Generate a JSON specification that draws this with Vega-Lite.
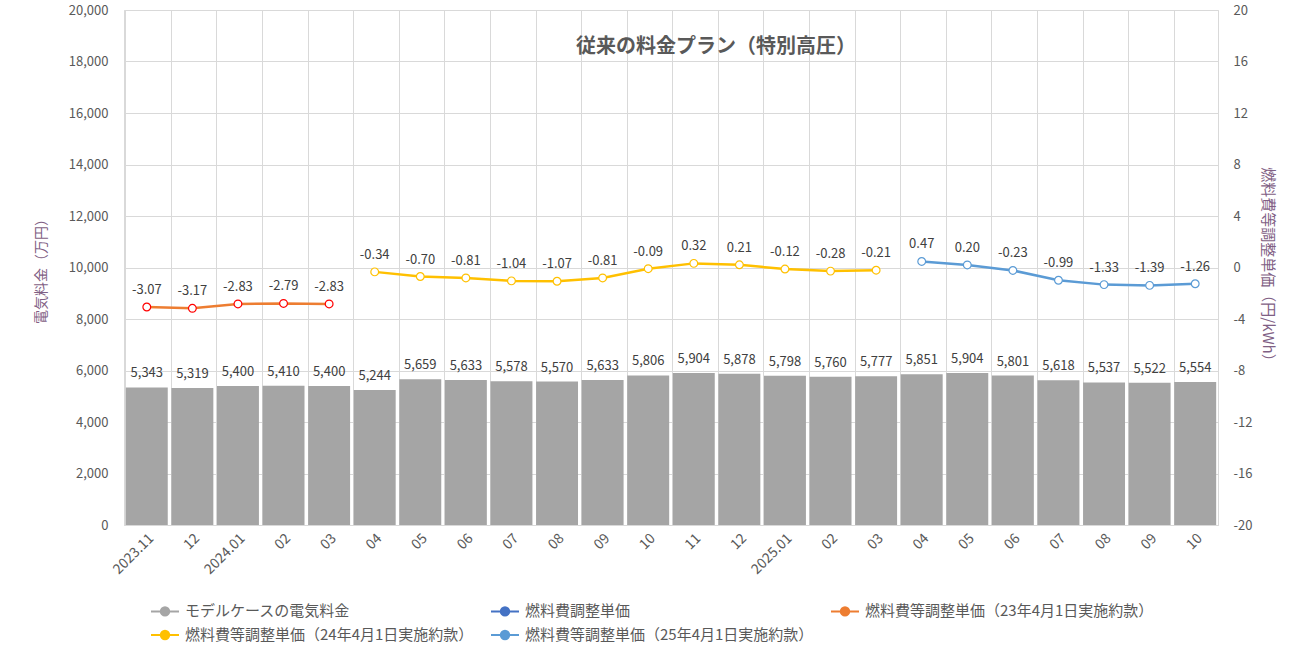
{
  "$schema": "https://vega.github.io/schema/vega-lite/v6.json",
  "width": 1094,
  "height": 515,
  "autosize": {"type": "none"},
  "padding": {"left": 124, "top": 10, "right": 87, "bottom": 136},
  "background": "white",
  "config": {
    "font": "Noto Sans CJK JP",
    "locale": {"number": {"decimal": ".", "thousands": ",", "grouping": [3], "currency": ["", ""], "minus": "-"}},
    "view": {"stroke": "#D9D9D9"},
    "axis": {"labelColor": "#595959", "labelFontSize": 13, "gridColor": "#D9D9D9", "ticks": false},
    "legend": {
      "orient": "none",
      "legendX": 26,
      "legendY": 586,
      "title": null,
      "columns": 3,
      "direction": "horizontal",
      "columnPadding": 13,
      "rowPadding": 0,
      "labelFontSize": 15,
      "labelColor": "#595959",
      "labelLimit": 400,
      "labelOffset": 5,
      "symbolSize": 784
    }
  },
  "title": {
    "text": "従来の料金プラン（特別高圧）",
    "fontSize": 20,
    "fontWeight": "bold",
    "color": "#595959",
    "anchor": "middle",
    "dx": 45,
    "dy": 57
  },
  "data": {
    "values": [
      {"m": "2023.11", "bill": 5343, "series": "燃料費等調整単価（23年4月1日実施約款）", "unit": -3.07},
      {"m": "2023.12", "bill": 5319, "series": "燃料費等調整単価（23年4月1日実施約款）", "unit": -3.17},
      {"m": "2024.01", "bill": 5400, "series": "燃料費等調整単価（23年4月1日実施約款）", "unit": -2.83},
      {"m": "2024.02", "bill": 5410, "series": "燃料費等調整単価（23年4月1日実施約款）", "unit": -2.79},
      {"m": "2024.03", "bill": 5400, "series": "燃料費等調整単価（23年4月1日実施約款）", "unit": -2.83},
      {"m": "2024.04", "bill": 5244, "series": "燃料費等調整単価（24年4月1日実施約款）", "unit": -0.34},
      {"m": "2024.05", "bill": 5659, "series": "燃料費等調整単価（24年4月1日実施約款）", "unit": -0.70},
      {"m": "2024.06", "bill": 5633, "series": "燃料費等調整単価（24年4月1日実施約款）", "unit": -0.81},
      {"m": "2024.07", "bill": 5578, "series": "燃料費等調整単価（24年4月1日実施約款）", "unit": -1.04},
      {"m": "2024.08", "bill": 5570, "series": "燃料費等調整単価（24年4月1日実施約款）", "unit": -1.07},
      {"m": "2024.09", "bill": 5633, "series": "燃料費等調整単価（24年4月1日実施約款）", "unit": -0.81},
      {"m": "2024.10", "bill": 5806, "series": "燃料費等調整単価（24年4月1日実施約款）", "unit": -0.09},
      {"m": "2024.11", "bill": 5904, "series": "燃料費等調整単価（24年4月1日実施約款）", "unit": 0.32},
      {"m": "2024.12", "bill": 5878, "series": "燃料費等調整単価（24年4月1日実施約款）", "unit": 0.21},
      {"m": "2025.01", "bill": 5798, "series": "燃料費等調整単価（24年4月1日実施約款）", "unit": -0.12},
      {"m": "2025.02", "bill": 5760, "series": "燃料費等調整単価（24年4月1日実施約款）", "unit": -0.28},
      {"m": "2025.03", "bill": 5777, "series": "燃料費等調整単価（24年4月1日実施約款）", "unit": -0.21},
      {"m": "2025.04", "bill": 5851, "series": "燃料費等調整単価（25年4月1日実施約款）", "unit": 0.47},
      {"m": "2025.05", "bill": 5904, "series": "燃料費等調整単価（25年4月1日実施約款）", "unit": 0.20},
      {"m": "2025.06", "bill": 5801, "series": "燃料費等調整単価（25年4月1日実施約款）", "unit": -0.23},
      {"m": "2025.07", "bill": 5618, "series": "燃料費等調整単価（25年4月1日実施約款）", "unit": -0.99},
      {"m": "2025.08", "bill": 5537, "series": "燃料費等調整単価（25年4月1日実施約款）", "unit": -1.33},
      {"m": "2025.09", "bill": 5522, "series": "燃料費等調整単価（25年4月1日実施約款）", "unit": -1.39},
      {"m": "2025.10", "bill": 5554, "series": "燃料費等調整単価（25年4月1日実施約款）", "unit": -1.26}
    ]
  },
  "encoding": {
    "x": {
      "field": "m",
      "type": "nominal",
      "sort": null,
      "scale": {"paddingInner": 0.08, "paddingOuter": 0.04},
      "axis": {
        "title": null,
        "labelAngle": -45,
        "labelPadding": 6,
        "labelFontSize": 14,
        "domainColor": "#D9D9D9",
        "grid": true,
        "bandPosition": 0,
        "labelExpr": "indexof(['2023.11', '2024.01', '2025.01'], datum.value) >= 0 ? datum.value : slice(datum.value, 5)"
      }
    }
  },
  "layer": [
    {
      "encoding": {
        "y": {
          "field": "bill",
          "type": "quantitative",
          "scale": {"domain": [0, 20000], "nice": false},
          "axis": {
            "title": "電気料金（万円）",
            "titleColor": "#7F6084",
            "titleFontSize": 14,
            "titleFontWeight": "normal",
            "titlePadding": 20,
            "values": [0, 2000, 4000, 6000, 8000, 10000, 12000, 14000, 16000, 18000, 20000],
            "format": ",d",
            "labelPadding": 16,
            "domain": false
          }
        }
      },
      "layer": [
        {
          "mark": {"type": "bar"},
          "encoding": {
            "color": {
              "datum": "モデルケースの電気料金",
              "type": "nominal",
              "scale": {
                "domain": ["モデルケースの電気料金", "燃料費調整単価", "燃料費等調整単価（23年4月1日実施約款）", "燃料費等調整単価（24年4月1日実施約款）", "燃料費等調整単価（25年4月1日実施約款）"],
                "range": ["#A5A5A5", "#4472C4", "#ED7D31", "#FFC000", "#5B9BD5"]
              },
              "legend": {
                "title": null,
                "encode": {
                  "symbols": {
                    "update": {
                      "shape": {"value": "M-1,0H-0.3M0.3,0H1M-0.3,0A0.3,0.3 0 1,0 0.3,0A0.3,0.3 0 1,0 -0.3,0"},
                      "fill": {"value": "white"},
                      "stroke": {"value": {"expr": "scale('color', datum.value)"}},
                      "strokeWidth": {"value": 2},
                      "size": {"value": 784},
                      "opacity": {"value": 1},
                      "fillOpacity": {"value": 1},
                      "strokeOpacity": {"value": 1}
                    }
                  }
                }
              }
            }
          }
        },
        {
          "mark": {"type": "text", "dy": -14, "fontSize": 13, "color": "#404040"},
          "encoding": {
            "text": {"field": "bill", "type": "quantitative", "format": ",d"}
          }
        }
      ]
    },
    {
      "encoding": {
        "y": {
          "field": "unit",
          "type": "quantitative",
          "scale": {"domain": [-20, 20], "nice": false},
          "axis": {
            "orient": "right",
            "title": "燃料費等調整単価（円/kWh）",
            "titleColor": "#7F6084",
            "titleFontSize": 15,
            "titleFontWeight": "normal",
            "titlePadding": 8,
            "values": [-20, -16, -12, -8, -4, 0, 4, 8, 12, 16, 20],
            "format": "d",
            "labelPadding": 15,
            "grid": false,
            "domain": false
          }
        }
      },
      "layer": [
        {
          "mark": {"type": "line", "strokeWidth": 2.5},
          "encoding": {
            "color": {
              "field": "series",
              "type": "nominal",
              "legend": {
                "title": null,
                "encode": {
                  "symbols": {
                    "update": {
                      "shape": {"value": "M-1,0H-0.3M0.3,0H1M-0.3,0A0.3,0.3 0 1,0 0.3,0A0.3,0.3 0 1,0 -0.3,0"},
                      "fill": {"value": "white"},
                      "stroke": {"value": {"expr": "scale('color', datum.value)"}},
                      "strokeWidth": {"value": 2},
                      "size": {"value": 784},
                      "opacity": {"value": 1},
                      "fillOpacity": {"value": 1},
                      "strokeOpacity": {"value": 1}
                    }
                  }
                }
              }
            }
          }
        },
        {
          "mark": {"type": "point", "filled": false, "fill": "white", "size": 60, "strokeWidth": 1.2, "opacity": 1},
          "encoding": {
            "color": {
              "condition": {"test": "datum.series === '燃料費等調整単価（23年4月1日実施約款）'", "value": "#FF0000"},
              "field": "series",
              "type": "nominal",
              "legend": {
                "title": null,
                "encode": {
                  "symbols": {
                    "update": {
                      "shape": {"value": "M-1,0H-0.3M0.3,0H1M-0.3,0A0.3,0.3 0 1,0 0.3,0A0.3,0.3 0 1,0 -0.3,0"},
                      "fill": {"value": "white"},
                      "stroke": {"value": {"expr": "scale('color', datum.value)"}},
                      "strokeWidth": {"value": 2},
                      "size": {"value": 784},
                      "opacity": {"value": 1},
                      "fillOpacity": {"value": 1},
                      "strokeOpacity": {"value": 1}
                    }
                  }
                }
              }
            }
          }
        },
        {
          "mark": {"type": "text", "dy": -17, "fontSize": 13, "color": "#404040"},
          "encoding": {
            "text": {"field": "unit", "type": "quantitative", "format": ".2f"}
          }
        }
      ]
    }
  ],
  "resolve": {"scale": {"y": "independent"}}
}
